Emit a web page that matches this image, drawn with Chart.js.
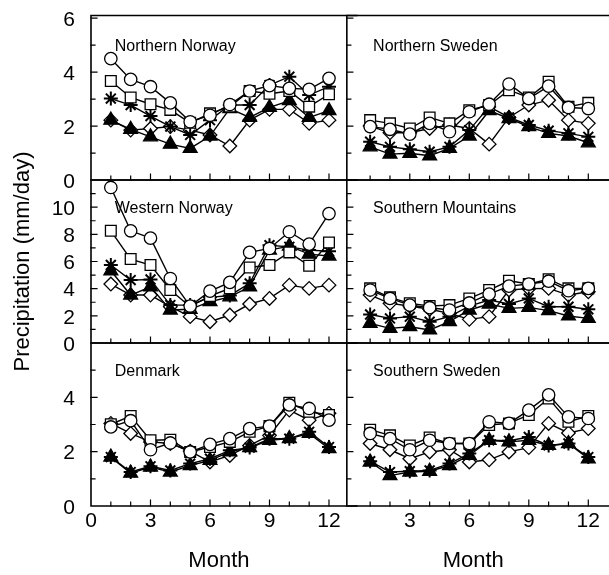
<!DOCTYPE html>
<html>
<head>
<meta charset="utf-8">
<script src="https://cdn.jsdelivr.net/npm/chart.js"></script>
<style>
  html, body { margin: 0; padding: 0; background: #fff; overflow: hidden; }
</style>
</head>
<body>
<canvas id="precipChart" width="609" height="575"></canvas>
<script>
// months on the x axis
const months = [1, 2, 3, 4, 5, 6, 7, 8, 9, 10, 11, 12];

// series order: circle, square, asterisk, filled triangle, diamond
const seriesNames = ['circle', 'square', 'asterisk', 'triangle', 'diamond'];

const northernNorway = [
  [4.5, 3.73, 3.46, 2.86, 2.16, 2.4, 2.8, 3.3, 3.5, 3.4, 3.36, 3.77],
  [3.67, 3.06, 2.81, 2.6, 2.12, 2.47, 2.72, 3.3, 3.2, 3.3, 2.72, 3.18],
  [3.02, 2.78, 2.37, 1.98, 1.67, 2.22, 2.78, 2.78, 3.52, 3.83, 3.15, 3.46],
  [2.22, 1.88, 1.6, 1.33, 1.17, 1.63, 2.65, 2.32, 2.69, 2.94, 2.32, 2.57],
  [2.22, 1.85, 1.91, 1.98, 1.85, 1.67, 1.26, 2.22, 2.62, 2.62, 2.1, 2.22]
];
const northernSweden = [
  [1.98, 1.88, 1.7, 2.1, 1.79, 2.53, 2.81, 3.56, 3.02, 3.48, 2.69, 2.65],
  [2.22, 2.1, 1.91, 2.32, 2.1, 2.59, 2.78, 3.33, 3.06, 3.64, 2.72, 2.86],
  [1.42, 1.23, 1.14, 1.05, 1.23, 1.85, 2.72, 2.32, 2.04, 1.83, 1.73, 1.6],
  [1.23, 0.96, 0.99, 0.9, 1.17, 1.63, 2.57, 2.28, 1.98, 1.73, 1.63, 1.38],
  [2.0, 1.75, 1.75, 1.91, 2.04, 1.91, 1.33, 2.32, 2.78, 2.96, 2.22, 2.1]
];
const westernNorway = [
  [11.45, 8.26, 7.72, 4.75, 2.72, 3.82, 4.46, 6.67, 6.96, 8.19, 7.28, 9.53],
  [8.26, 6.18, 5.74, 3.9, 2.67, 3.46, 4.02, 5.56, 5.74, 6.67, 5.69, 7.4],
  [5.74, 4.63, 4.68, 2.79, 2.79, 3.36, 3.5, 4.39, 7.2, 7.08, 6.84, 6.76],
  [5.32, 3.53, 4.14, 2.43, 2.48, 3.04, 3.4, 4.14, 6.84, 7.13, 6.54, 6.4],
  [4.34, 3.53, 3.53, 2.67, 1.94, 1.57, 2.06, 2.87, 3.28, 4.26, 4.02, 4.26]
];
const southernMountains = [
  [3.9, 3.28, 2.79, 2.6, 2.43, 2.95, 3.6, 4.19, 4.34, 4.55, 3.85, 4.02],
  [4.02, 3.36, 2.92, 2.72, 2.79, 3.28, 3.9, 4.58, 4.34, 4.7, 4.02, 4.02],
  [2.1, 1.81, 1.94, 1.57, 1.94, 2.72, 3.16, 2.87, 3.28, 2.67, 2.67, 2.48],
  [1.45, 1.08, 1.2, 0.96, 1.57, 2.43, 2.87, 2.55, 2.62, 2.38, 1.99, 1.81],
  [3.53, 2.92, 2.72, 2.48, 2.18, 1.74, 1.94, 3.9, 4.0, 4.02, 3.53, 3.77]
];
const denmark = [
  [2.91, 3.14, 2.07, 2.32, 1.99, 2.27, 2.48, 2.85, 2.94, 3.72, 3.59, 3.16],
  [3.01, 3.31, 2.42, 2.44, 1.99, 2.17, 2.36, 2.73, 2.94, 3.8, 3.47, 3.35],
  [1.8, 1.25, 1.46, 1.31, 1.56, 1.74, 2.05, 2.15, 2.48, 2.48, 2.73, 2.17],
  [1.8, 1.21, 1.43, 1.25, 1.49, 1.68, 1.99, 2.15, 2.42, 2.48, 2.67, 2.11],
  [3.04, 2.67, 2.36, 2.3, 2.02, 1.62, 1.86, 2.23, 2.6, 3.53, 3.16, 3.41]
];
const southernSweden = [
  [2.67, 2.48, 2.07, 2.42, 2.3, 2.3, 3.1, 3.04, 3.53, 4.09, 3.28, 3.22],
  [2.81, 2.6, 2.23, 2.52, 2.3, 2.3, 2.98, 3.04, 3.35, 3.96, 3.1, 3.31],
  [1.65, 1.25, 1.28, 1.31, 1.56, 1.93, 2.42, 2.4, 2.54, 2.23, 2.3, 1.8],
  [1.62, 1.12, 1.25, 1.28, 1.49, 1.86, 2.42, 2.36, 2.42, 2.23, 2.3, 1.74],
  [2.3, 2.07, 1.74, 1.99, 2.07, 1.62, 1.7, 1.99, 2.15, 3.04, 2.69, 2.85]
];

// which panel each region goes into
const panels = [
  { name: 'Northern Norway', values: northernNorway, x: 'xL', y: 'yTop', labelAt: [1.2, 5] },
  { name: 'Northern Sweden', values: northernSweden, x: 'xR', y: 'yTop', labelAt: [1.15, 5] },
  { name: 'Western Norway', values: westernNorway, x: 'xL', y: 'yMid', labelAt: [1.2, 10] },
  { name: 'Southern Mountains', values: southernMountains, x: 'xR', y: 'yMid', labelAt: [1.15, 10] },
  { name: 'Denmark', values: denmark, x: 'xL', y: 'yBot', labelAt: [1.2, 5] },
  { name: 'Southern Sweden', values: southernSweden, x: 'xR', y: 'yBot', labelAt: [1.15, 5] }
];

const markerStyles = [
  { style: 'circle', radius: 6.2, fill: '#fff', width: 1.3 },
  { style: 'rect', radius: 7.6, fill: '#fff', width: 1.3 },
  { style: 'star', radius: 7, fill: '#000', width: 2 },
  { style: 'triangle', radius: 8, fill: '#000', width: 1.3 },
  { style: 'rectRot', radius: 6.8, fill: '#fff', width: 1.3 }
];

const datasets = [];
panels.forEach(p => {
  p.values.forEach((vals, k) => {
    const st = markerStyles[k];
    datasets.push({
      label: p.name + ' ' + seriesNames[k],
      xAxisID: p.x,
      yAxisID: p.y,
      data: months.map((m, i) => ({ x: m, y: vals[i] })),
      borderColor: '#000',
      borderWidth: 1.4,
      fill: false,
      tension: 0,
      pointStyle: st.style,
      pointRadius: st.radius,
      pointBackgroundColor: st.fill,
      pointBorderColor: '#000',
      pointBorderWidth: st.width
    });
  });
});

Chart.defaults.font.family = '"Liberation Sans", Arial, Helvetica, sans-serif';
Chart.defaults.color = '#000';

// panel frames, inward ticks and region names
const panelPlugin = {
  id: 'panelPlugin',
  beforeDatasetsDraw(chart) {
    const ctx = chart.ctx;
    ctx.save();
    ctx.strokeStyle = '#000';
    ctx.lineCap = 'square';
    panels.forEach(p => {
      const xs = chart.scales[p.x];
      const ys = chart.scales[p.y];
      ctx.lineWidth = 1.6;
      ctx.beginPath();
      ctx.moveTo(xs.left, ys.top);
      ctx.lineTo(xs.left, ys.bottom);
      ctx.lineTo(xs.right + 10, ys.bottom);
      ctx.moveTo(xs.left, ys.top);
      ctx.lineTo(xs.right + 10, ys.top);
      ctx.stroke();

      ctx.lineWidth = 1.2;
      ctx.beginPath();
      xs.ticks.forEach(t => {
        if (t.value <= 0) return;
        const px = xs.getPixelForValue(t.value);
        const len = t.value % 3 === 0 ? 6 : 4;
        ctx.moveTo(px, ys.bottom);
        ctx.lineTo(px, ys.bottom - len);
      });
      ys.ticks.forEach(t => {
        if (t.value <= 0 || t.value >= ys.max) return;
        const py = ys.getPixelForValue(t.value);
        const len = t.value % 2 === 0 ? 6 : 4;
        ctx.moveTo(xs.left, py);
        ctx.lineTo(xs.left + len, py);
      });
      ctx.stroke();

      ctx.font = '16px "Liberation Sans", Arial, sans-serif';
      ctx.fillStyle = '#000';
      ctx.textAlign = 'left';
      ctx.textBaseline = 'middle';
      ctx.fillText(p.name, xs.getPixelForValue(p.labelAt[0]), ys.getPixelForValue(p.labelAt[1]) + 1.5);
    });
    ctx.restore();
  }
};

// tick marks are drawn by the plugin; the y grid only reserves the gap before the labels
const xGrid = { display: false, drawTicks: false };
const yGrid = { display: false, drawTicks: true, tickLength: 16 };
const noBorder = { display: false };
const fixHeight = s => { s.height = 69; s.paddingLeft = 0; s.paddingRight = 0; };
const fixWidth = s => { s.width = 81; };

const config = {
  type: 'line',
  data: { datasets: datasets },
  options: {
    responsive: false,
    animation: false,
    layout: { padding: { left: 10, right: 0, top: 15.5, bottom: 0 } },
    plugins: {
      legend: { display: false },
      tooltip: { enabled: false }
    },
    scales: {
      xL: {
        type: 'linear', axis: 'x', position: 'bottom', stack: 'cols', stackWeight: 258,
        min: 0, max: 12.9,
        grid: xGrid, border: noBorder, afterFit: fixHeight,
        ticks: {
          stepSize: 1, includeBounds: false, maxRotation: 0, autoSkip: false, padding: 2.5,
          font: { size: 21 },
          callback: v => (v % 3 === 0 ? v : '')
        },
        title: { display: true, text: 'Month', font: { size: 22 }, padding: { top: 10, bottom: 1 } }
      },
      xR: {
        type: 'linear', axis: 'x', position: 'bottom', stack: 'cols', stackWeight: 255,
        min: -0.175, max: 12.575,
        grid: xGrid, border: noBorder, afterFit: fixHeight,
        ticks: {
          stepSize: 1, includeBounds: false, maxRotation: 0, autoSkip: false, padding: 2.5,
          font: { size: 21 },
          callback: v => (v % 3 === 0 && v > 0 ? v : '')
        },
        title: { display: true, text: 'Month', font: { size: 22 }, padding: { top: 10, bottom: 1 } }
      },
      yBot: {
        type: 'linear', axis: 'y', position: 'left', stack: 'rows', stackWeight: 163,
        min: 0, max: 6,
        grid: yGrid, border: noBorder, afterFit: fixWidth,
        ticks: {
          stepSize: 1, includeBounds: false, autoSkip: false, padding: 0, labelOffset: 2,
          font: { size: 21 },
          callback: v => (v % 2 === 0 && v < 6 ? v : '')
        }
      },
      yMid: {
        type: 'linear', axis: 'y', position: 'left', stack: 'rows', stackWeight: 163,
        min: 0, max: 12,
        grid: yGrid, border: noBorder, afterFit: fixWidth,
        ticks: {
          stepSize: 1, includeBounds: false, autoSkip: false, padding: 0, labelOffset: 2,
          font: { size: 21 },
          callback: v => (v % 2 === 0 && v < 12 ? v : '')
        },
        title: { display: true, text: 'Precipitation (mm/day)', font: { size: 22 }, padding: { top: 0, bottom: 15 } }
      },
      yTop: {
        type: 'linear', axis: 'y', position: 'left', stack: 'rows', stackWeight: 164.5,
        min: 0, max: 6.1,
        grid: yGrid, border: noBorder, afterFit: fixWidth,
        ticks: {
          stepSize: 1, includeBounds: false, autoSkip: false, padding: 0, labelOffset: 2,
          font: { size: 21 },
          callback: v => (v % 2 === 0 ? v : '')
        }
      }
    }
  },
  plugins: [panelPlugin]
};

const precipChart = new Chart(document.getElementById('precipChart'), config);
</script>
</body>
</html>
